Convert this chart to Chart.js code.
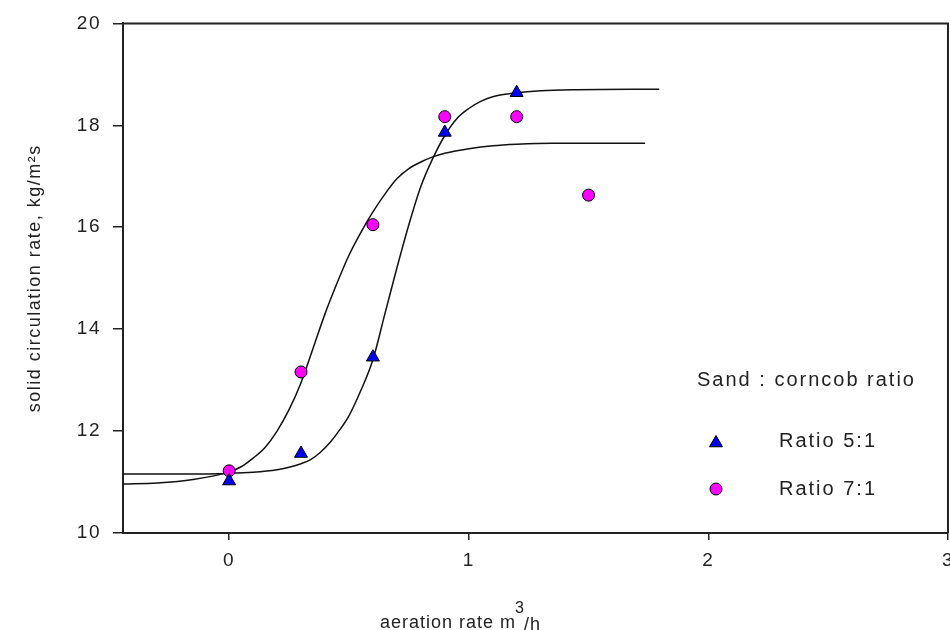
<!DOCTYPE html>
<html>
<head>
<meta charset="utf-8">
<script src="https://cdn.jsdelivr.net/npm/chart.js@4.4.1/dist/chart.umd.min.js"></script>
<style>
    html, body { margin: 0; padding: 0; background: #fff; overflow: hidden; }
    #wrap { width: 963px; height: 630px; }
</style>
</head>
<body>
<div id="wrap"><canvas id="solidChart"></canvas></div>
<script>
// measured points (aeration rate m3/h -> solid circulation rate)
var ratio51X = [0, 0.3, 0.6, 0.9, 1.2];
var ratio51Y = [11.02, 11.56, 13.45, 17.86, 18.64];
var ratio71X = [0, 0.3, 0.6, 0.9, 1.2, 1.5];
var ratio71Y = [11.22, 13.16, 16.05, 18.17, 18.17, 16.63];

// fitted curves
var fit51X = [-0.443, -0.2, 0, 0.1, 0.2, 0.25, 0.3, 0.34, 0.38, 0.42, 0.45, 0.5, 0.55, 0.6, 0.65, 0.7, 0.75, 0.8, 0.85, 0.9, 0.95, 1.0, 1.05, 1.1, 1.2, 1.3, 1.45, 1.795];
var fit51Y = [11.16, 11.16, 11.17, 11.19, 11.24, 11.29, 11.36, 11.44, 11.58, 11.77, 11.95, 12.3, 12.8, 13.4, 14.3, 15.2, 16.05, 16.8, 17.35, 17.8, 18.13, 18.33, 18.47, 18.56, 18.64, 18.68, 18.7, 18.71];
var fit71X = [-0.443, -0.3, -0.15, 0, 0.05, 0.1, 0.15, 0.2, 0.25, 0.3, 0.35, 0.4, 0.45, 0.5, 0.55, 0.6, 0.65, 0.7, 0.75, 0.8, 0.85, 0.9, 1.0, 1.1, 1.2, 1.35, 1.736];
var fit71Y = [10.96, 10.98, 11.05, 11.2, 11.3, 11.47, 11.68, 12.0, 12.42, 12.95, 13.62, 14.3, 14.9, 15.45, 15.9, 16.3, 16.65, 16.95, 17.15, 17.28, 17.38, 17.45, 17.54, 17.6, 17.63, 17.65, 17.65];

var xTicks = [0, 1, 2, 3];
var yTicks = [10, 12, 14, 16, 18, 20];

var legendTitle = 'Sand : corncob ratio';
var inkColor = '#222';

function toPoints(xs, ys) {
    return xs.map(function (x, i) { return { x: x, y: ys[i] }; });
}

function drawMarker(ctx, style, x, y, r) {
    ctx.beginPath();
    if (style === 'triangle') {
        ctx.moveTo(x, y - r);
        ctx.lineTo(x + 0.866 * r, y + 0.5 * r);
        ctx.lineTo(x - 0.866 * r, y + 0.5 * r);
        ctx.closePath();
    } else {
        ctx.arc(x, y, r, 0, Math.PI * 2);
    }
    ctx.fill();
    ctx.stroke();
}

var spacingPlugin = {
    id: 'spacing',
    beforeLayout: function (chart) { chart.ctx.letterSpacing = '1.5px'; },
    beforeDraw: function (chart) { chart.ctx.letterSpacing = '1.5px'; }
};

var framePlugin = {
    id: 'frame',
    afterDraw: function (chart) {
        var a = chart.chartArea;
        var ctx = chart.ctx;
        ctx.save();
        ctx.strokeStyle = inkColor;
        ctx.lineWidth = 2;
        ctx.beginPath();
        ctx.moveTo(a.left, a.top);
        ctx.lineTo(a.right, a.top);
        ctx.lineTo(a.right, a.bottom);
        ctx.stroke();

        // legend block inside the plot
        ctx.fillStyle = inkColor;
        ctx.letterSpacing = '2px';
        ctx.font = '20px "Liberation Sans", Arial, sans-serif';
        ctx.textBaseline = 'middle';
        ctx.textAlign = 'left';
        ctx.fillText(legendTitle, 697, 380);
        var rows = [chart.data.datasets[0], chart.data.datasets[1]];
        rows.forEach(function (ds, i) {
            var y = 441 + i * 48;
            ctx.fillStyle = ds.backgroundColor;
            ctx.strokeStyle = '#000';
            ctx.lineWidth = 1;
            drawMarker(ctx, ds.pointStyle, 716, y + (ds.pointStyle === 'triangle' ? 2 : 0), ds.pointStyle === 'triangle' ? 7.5 : 6);
            ctx.fillStyle = inkColor;
            ctx.fillText(ds.label, 779, y);
        });

        // x axis title with raised exponent
        ctx.letterSpacing = '1px';
        ctx.textBaseline = 'alphabetic';
        ctx.font = '18px "Liberation Sans", Arial, sans-serif';
        var t1 = 'aeration rate m';
        ctx.fillText(t1, 380, 628);
        var w1 = ctx.measureText(t1).width;
        ctx.font = '16px "Liberation Sans", Arial, sans-serif';
        ctx.fillText('3', 380 + w1 - 1, 613);
        var w2 = ctx.measureText('3').width;
        ctx.font = '18px "Liberation Sans", Arial, sans-serif';
        ctx.fillText('/h', 380 + w1 + w2 - 2, 630);
        ctx.restore();
    }
};

Chart.defaults.font.family = '"Liberation Sans", Arial, sans-serif';
Chart.defaults.color = inkColor;

var ctx = document.getElementById('solidChart').getContext('2d');
var solidChart = new Chart(ctx, {
    type: 'scatter',
    data: {
        datasets: [{
            label: 'Ratio 5:1',
            data: toPoints(ratio51X, ratio51Y),
            pointStyle: 'triangle',
            pointRadius: 7.5,
            backgroundColor: '#0000ff',
            borderColor: '#000',
            borderWidth: 1,
            order: 1
        }, {
            label: 'Ratio 7:1',
            data: toPoints(ratio71X, ratio71Y),
            pointStyle: 'circle',
            pointRadius: 6,
            backgroundColor: '#ff00ff',
            borderColor: '#000',
            borderWidth: 1,
            order: 1
        }, {
            label: 'fit 5:1',
            data: toPoints(fit51X, fit51Y),
            showLine: true,
            pointRadius: 0,
            borderColor: '#111',
            borderWidth: 1.5,
            cubicInterpolationMode: 'monotone',
            order: 2
        }, {
            label: 'fit 7:1',
            data: toPoints(fit71X, fit71Y),
            showLine: true,
            pointRadius: 0,
            borderColor: '#111',
            borderWidth: 1.5,
            cubicInterpolationMode: 'monotone',
            order: 2
        }]
    },
    options: {
        responsive: true,
        maintainAspectRatio: false,
        animation: false,
        events: [],
        layout: { padding: { top: 23, right: 0, bottom: 0, left: 0 } },
        plugins: {
            legend: { display: false },
            tooltip: { enabled: false }
        },
        scales: {
            x: {
                type: 'linear',
                min: -0.443,
                max: 3,
                afterBuildTicks: function (scale) {
                    scale.ticks = xTicks.map(function (v) { return { value: v }; });
                },
                afterFit: function (scale) { scale.height = 97; },
                border: { color: inkColor, width: 2 },
                grid: { drawOnChartArea: false, tickLength: 7, color: inkColor, lineWidth: 1.5 },
                ticks: { font: { size: 19 }, padding: 9, maxRotation: 0, color: inkColor },
                title: { display: false }
            },
            y: {
                min: 10,
                max: 20,
                afterBuildTicks: function (scale) {
                    scale.ticks = yTicks.map(function (v) { return { value: v }; });
                },
                afterFit: function (scale) { scale.width = 123; },
                border: { color: inkColor, width: 2 },
                grid: { drawOnChartArea: false, tickLength: 10, color: inkColor, lineWidth: 1.5 },
                ticks: { font: { size: 19 }, padding: 12, color: inkColor },
                title: {
                    display: true,
                    text: 'solid circulation rate, kg/m²s',
                    font: { size: 18 },
                    color: inkColor,
                    padding: { top: 24, bottom: 0 }
                }
            }
        }
    },
    plugins: [spacingPlugin, framePlugin]
});
</script>
</body>
</html>
